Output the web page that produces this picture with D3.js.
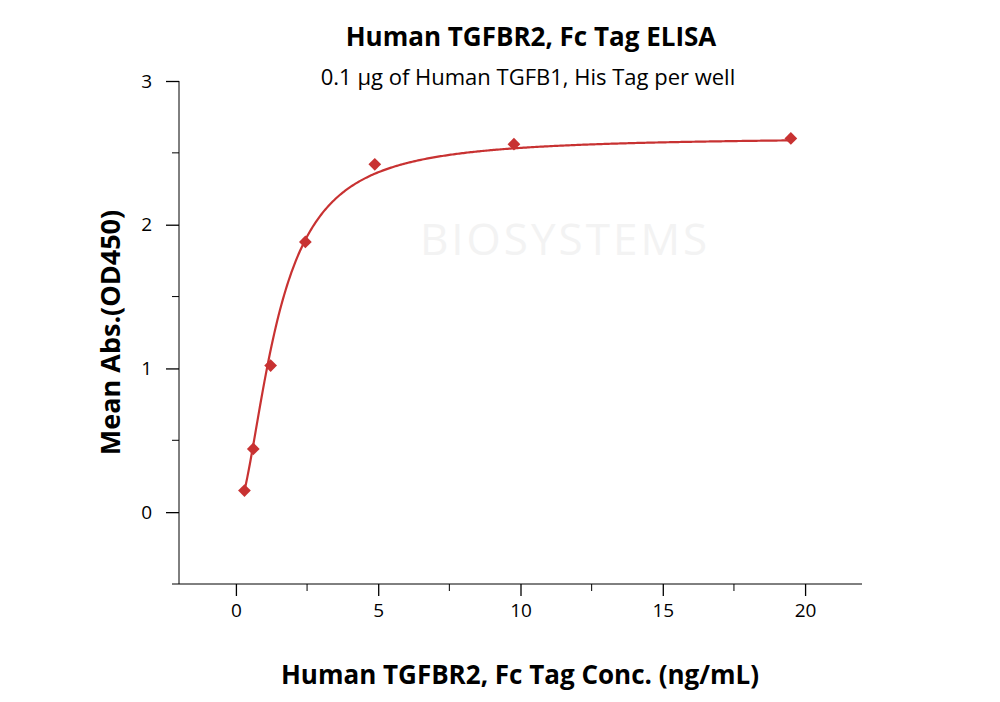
<!DOCTYPE html>
<html><head><meta charset="utf-8">
<script src="https://d3js.org/d3.v7.min.js"></script>
<style>body{margin:0;background:#fff}</style>
</head><body><div id="vis"></div>
<script>
// measured points
const concs = [0.3, 0.61, 1.22, 2.44, 4.88, 9.77, 19.5];
const absorb = [0.15, 0.44, 1.02, 1.88, 2.42, 2.56, 2.60];
const xTicks = [0, 5, 10, 15, 20];
const yTicks = [0, 1, 2, 3];
// 4PL fit parameters
const fit = {bottom: 0, top: 2.61, ec50: 1.42, hill: 1.8};

const width = 1000, height = 702;
const svg = d3.select("#vis").append("svg").attr("width", width).attr("height", height)
  .style("font-family", "'Open Sans', 'DejaVu Sans', sans-serif");

const x = d3.scaleLinear().domain([-2, 22]).range([179, 862]);
const y = d3.scaleLinear().domain([-0.5, 3]).range([584, 81]);
const red = "#c83232";

// watermark
svg.append("text").attr("x", 565).attr("y", 255).attr("text-anchor", "middle")
  .attr("font-size", 44).attr("fill", "#f3f3f3").attr("letter-spacing", 3).text("BIOSYSTEMS");

// axes
const xAxis = d3.axisBottom(x).tickValues(xTicks).tickFormat(d3.format("d")).tickSize(12).tickPadding(8);
const gx = svg.append("g").attr("transform", `translate(0,${y(-0.5)})`).call(xAxis)
  .attr("font-size", 19).attr("font-family", null);
gx.select(".domain").attr("d", `M${x(-2)},0H${x(22)}`);
gx.selectAll("text").attr("fill", "#000");
gx.selectAll(".tick line").attr("stroke-width", 1.3);
svg.append("g").attr("transform", `translate(0,${y(-0.5)})`)
  .selectAll("line").data(d3.range(-2.5, 22, 5).filter(v => v > -2)).join("line")
  .attr("x1", d => x(d)).attr("x2", d => x(d)).attr("y1", 0).attr("y2", 7).attr("stroke", "#000");

const yAxis = d3.axisLeft(y).tickValues(yTicks).tickFormat(d3.format("d")).tickSize(13).tickPadding(14);
const gy = svg.append("g").attr("transform", `translate(${x(-2)},0)`).call(yAxis)
  .attr("font-size", 19).attr("font-family", null);
gy.select(".domain").attr("d", `M0,${y(-0.5)}V${y(3)}`);
gy.selectAll("text").attr("fill", "#000");
gy.selectAll(".tick line").attr("stroke-width", 1.3);
svg.append("g").attr("transform", `translate(${x(-2)},0)`)
  .selectAll("line").data([-0.5, 0.5, 1.5, 2.5]).join("line")
  .attr("y1", d => y(d)).attr("y2", d => y(d)).attr("x1", 0).attr("x2", -7).attr("stroke", "#000");

// fitted curve
const curveXs = d3.range(0.3, 19.51, 0.05);
const f = c => fit.bottom + (fit.top - fit.bottom) / (1 + Math.pow(fit.ec50 / c, fit.hill));
svg.append("path").datum(curveXs)
  .attr("d", d3.line().x(d => x(d)).y(d => y(f(d))))
  .attr("fill", "none").attr("stroke", red).attr("stroke-width", 2.2);

// points (square diamonds)
svg.selectAll(".pt").data(concs).join("rect")
  .attr("x", -4.5).attr("y", -4.5).attr("width", 9).attr("height", 9)
  .attr("transform", (d, i) => `translate(${x(d)},${y(absorb[i])}) rotate(45)`)
  .attr("fill", red);

// titles
svg.append("text").attr("x", 531).attr("y", 46).attr("text-anchor", "middle")
  .attr("font-size", 26).attr("font-weight", "bold").text("Human TGFBR2, Fc Tag ELISA");
svg.append("text").attr("x", 528).attr("y", 85).attr("text-anchor", "middle")
  .attr("font-size", 22).text("0.1 μg of Human TGFB1, His Tag per well");
svg.append("text").attr("x", 520).attr("y", 684).attr("text-anchor", "middle")
  .attr("font-size", 26).attr("font-weight", "bold").text("Human TGFBR2, Fc Tag Conc. (ng/mL)");
svg.append("text").attr("transform", `translate(120,${y(1.25)}) rotate(-90)`).attr("text-anchor", "middle")
  .attr("font-size", 27).attr("font-weight", "bold").text("Mean Abs.(OD450)");
</script></body></html>
